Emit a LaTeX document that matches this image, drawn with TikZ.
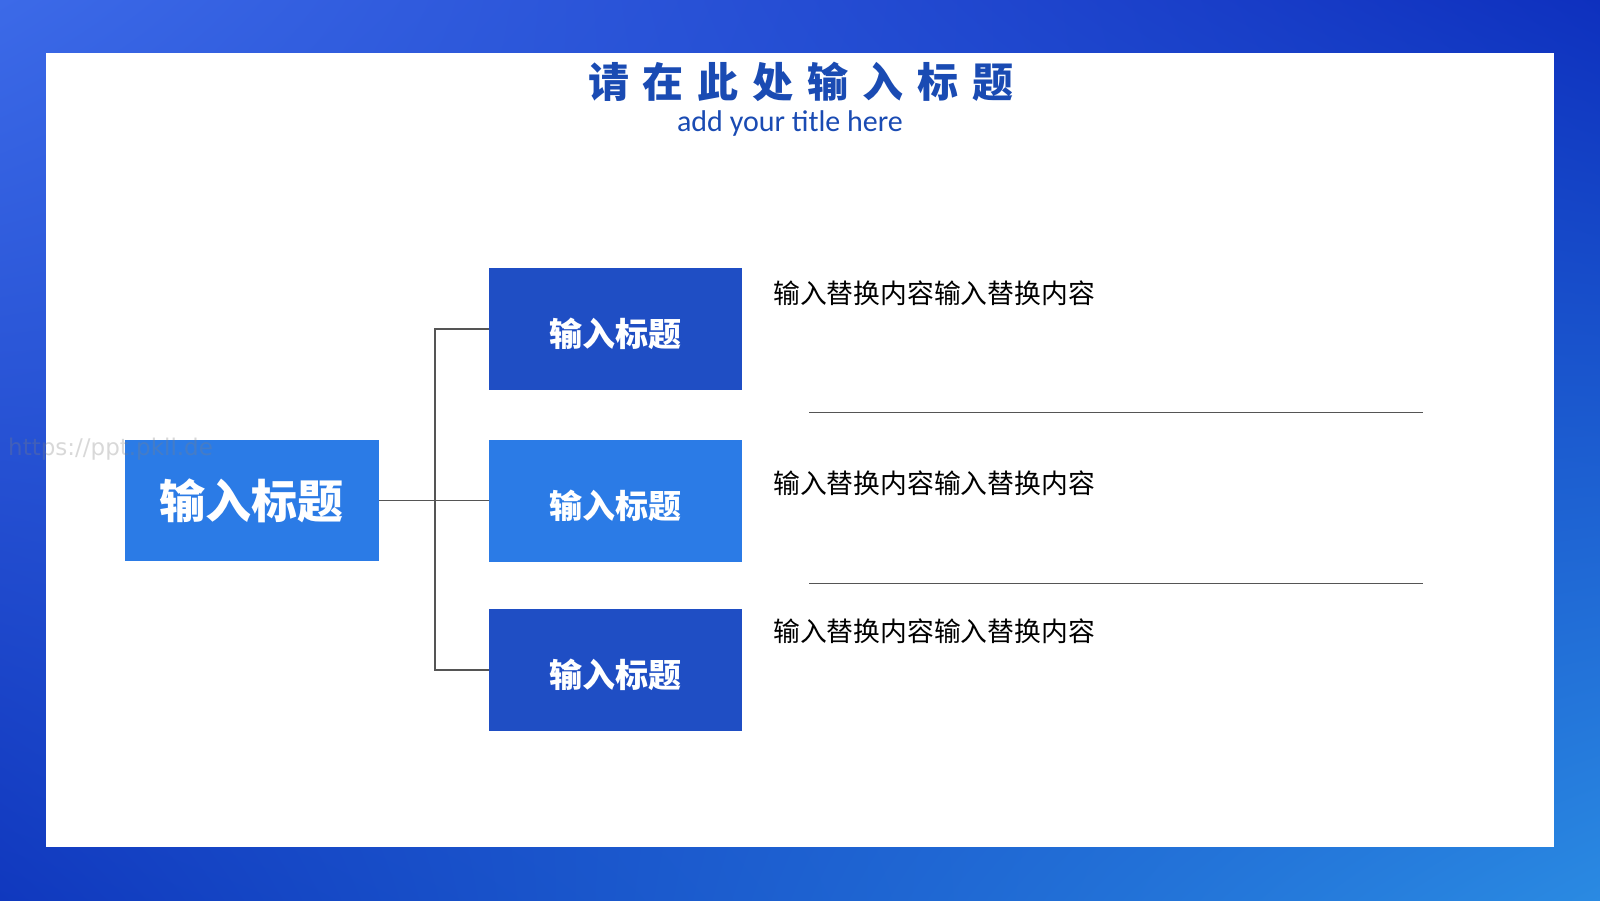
\documentclass[tikz,border=0pt]{standalone}
\usepackage{fontspec}
\usetikzlibrary{shadings}
\newfontfamily\cjk{Noto Sans CJK SC}
\newfontfamily\latinf{Carlito}
\newfontfamily\wmfont{DejaVu Sans}
\definecolor{titleblue}{HTML}{1A4BB3}
\definecolor{darkbox}{HTML}{1F4EC4}
\definecolor{lightbox}{HTML}{2B7BE6}
\definecolor{linegray}{HTML}{555555}
\definecolor{bgTL}{HTML}{3C6AE8}
\definecolor{bgTR}{HTML}{0E30BE}
\definecolor{bgBL}{HTML}{1038BE}
\definecolor{bgBR}{HTML}{2A8AE2}
\tikzset{
  boxbase/.style={minimum width=253pt, minimum height=122pt, inner sep=0pt, text=white, font=\cjk\bfseries\fontsize{33}{36}\selectfont},
  darkstep/.style={boxbase, fill=darkbox},
  lightstep/.style={boxbase, fill=lightbox},
  mainbox/.style={boxbase, fill=lightbox, minimum width=254pt, minimum height=121pt, font=\cjk\bfseries\fontsize{46}{50}\selectfont},
  conn/.style={draw=linegray, line width=1.2pt},
  sepline/.style={draw=linegray, line width=1pt},
  bodytext/.style={anchor=west, inner sep=0pt, text=black, font=\cjk\fontsize{26.8}{30}\selectfont}
}
\newcommand{\lowered}[1]{\raisebox{-5pt}[\height][\depth]{#1}}
\begin{document}
\begin{tikzpicture}[x=1pt,y=-1pt]
\useasboundingbox (0,0) rectangle (1600,900);
\shade[upper left=bgTL, upper right=bgTR, lower left=bgBL, lower right=bgBR] (0,0) rectangle (1600,900);
\fill[white] (46,53) rectangle (1554,847);
% title
\node[text=titleblue, font=\cjk\bfseries\fontsize{41}{44}\selectfont, inner sep=0pt] (title) at (801,82)
  {请\hspace{14pt}在\hspace{14pt}此\hspace{14pt}处\hspace{14pt}输\hspace{14pt}入\hspace{14pt}标\hspace{14pt}题};
\node[text=titleblue, font=\latinf\fontsize{30}{32}\selectfont, inner sep=0pt] (subtitle) at (790,123) {add your title here};
% boxes
\node[mainbox] (main) at (251.5,500.5) {输入标题};
\node[darkstep] (b1) at (615.5,329) {\lowered{输入标题}};
\node[lightstep] (b2) at (615.5,500.5) {\lowered{输入标题}};
\node[darkstep] (b3) at (615.5,670) {\lowered{输入标题}};
% connectors
\coordinate (j) at (435,500.5);
\draw[conn] (main.east) -- (j);
\draw[conn] (b1.west) -| (j) |- (b3.west);
\draw[conn] (j) -- (b2.west);
% texts
\node[bodytext] (t1) at (773,293) {输入替换内容输入替换内容};
\node[bodytext] (t2) at (773,483) {输入替换内容输入替换内容};
\node[bodytext] (t3) at (773,631) {输入替换内容输入替换内容};
% separator lines
\coordinate (s1a) at (809,412); \coordinate (s1b) at (1423,412);
\coordinate (s2a) at (809,583); \coordinate (s2b) at (1423,583);
\draw[sepline] (s1a) -- (s1b);
\draw[sepline] (s2a) -- (s2b);
% watermark
\node[text=gray, font=\wmfont\fontsize{23}{24}\selectfont, anchor=west, inner sep=0pt, opacity=0.3] (wm) at (8,449) {https://ppt.pkll.de};
\end{tikzpicture}
\end{document}
